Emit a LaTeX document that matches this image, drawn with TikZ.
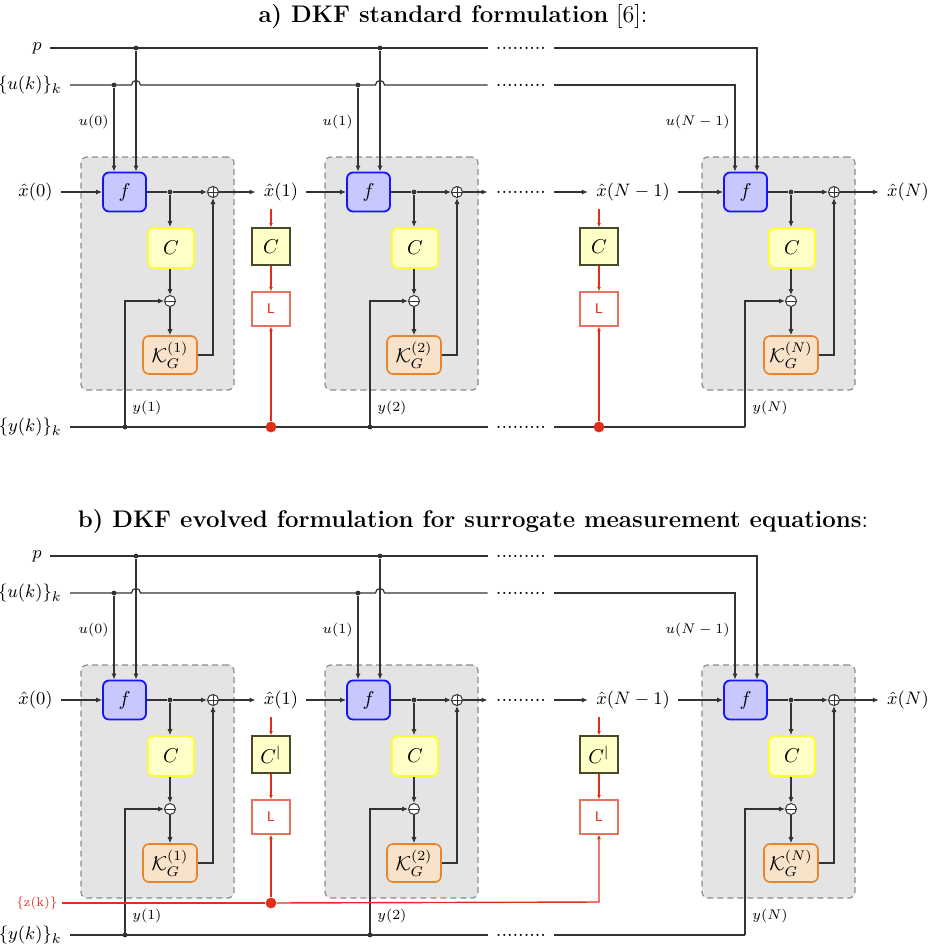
\documentclass[tikz,border=0pt]{standalone}
\usepackage{amsmath}
\usepackage{amssymb}
\usepackage{tikz}
\usetikzlibrary{arrows.meta,positioning,calc}
\definecolor{grpfill}{HTML}{E4E4E4}
\definecolor{grpline}{HTML}{8C8C8C}
\definecolor{ffill}{HTML}{C8C8FF}
\definecolor{fline}{HTML}{1414FF}
\definecolor{cfill}{HTML}{FFFFC8}
\definecolor{cline}{HTML}{FFFF30}
\definecolor{kfill}{HTML}{F8E2CA}
\definecolor{kline}{HTML}{E8842E}
\definecolor{rcline}{HTML}{4A4A2A}
\definecolor{lline}{HTML}{E8705E}
\definecolor{sigred}{HTML}{E0301C}
\definecolor{wire}{HTML}{333333}
\tikzset{
  grp/.style={draw=grpline, fill=grpfill, dash pattern=on 3pt off 2pt,
              rounded corners=3pt, line width=0.6pt},
  blk/.style={rounded corners=3pt, align=center, inner sep=1pt,
              font=\fontsize{10}{12}\selectfont},
  fblk/.style={blk, draw=fline, fill=ffill, line width=0.9pt,
               minimum width=21.5pt, minimum height=19.5pt},
  cblk/.style={blk, draw=cline, fill=cfill, line width=0.9pt,
               minimum width=23pt, minimum height=20pt},
  kblk/.style={blk, draw=kline, fill=kfill, line width=0.8pt,
               minimum width=27pt, minimum height=19pt},
  rcblk/.style={draw=rcline, fill=cfill, line width=0.6pt, inner sep=1pt,
                minimum width=19pt, minimum height=18.5pt,
                font=\fontsize{10}{12}\selectfont},
  lblk/.style={draw=lline, fill=white, line width=0.7pt, text=sigred,
               minimum width=19pt, minimum height=17pt,
               font=\sffamily\fontsize{7}{8}\selectfont},
  sumop/.style={circle, draw=wire, fill=white, line width=0.5pt,
                minimum size=5.5pt, inner sep=0pt},
  addop/.style={sumop, path picture={\draw[wire, line width=0.5pt]
      (path picture bounding box.north) -- (path picture bounding box.south)
      (path picture bounding box.west) -- (path picture bounding box.east);}},
  subop/.style={sumop, path picture={\draw[wire, line width=0.5pt]
      (path picture bounding box.west) -- (path picture bounding box.east);}},
  wr/.style={wire, line width=0.6pt},
  sig/.style={-{Latex[length=3pt,width=2.6pt]}, wire, line width=0.6pt},
  rsig/.style={-{Latex[length=2.2pt,width=2pt]}, sigred, line width=0.7pt},
  jn/.style={circle, fill=wire, inner sep=0pt, minimum size=2.4pt},
  rjn/.style={circle, fill=sigred, inner sep=0pt, minimum size=5.4pt},
  st/.style={inner sep=4pt, font=\fontsize{9.5}{11}\selectfont},
  lbl/.style={inner sep=1pt, font=\fontsize{7}{8}\selectfont},
  dts/.style={inner sep=4pt, font=\fontsize{10}{12}\selectfont},
  ttl/.style={inner sep=0pt, font=\fontsize{12}{14}\selectfont},
}

\begin{document}
\begin{tikzpicture}[x=0.5pt, y=-0.5pt]
  \useasboundingbox (0,0) rectangle (930,948);
  \node[ttl] (ttl-a) at (453,17) {\textbf{a) DKF standard formulation} [6]:};
  \node[ttl] (ttl-b) at (473,522)
    {\textbf{b) DKF evolved formulation for surrogate measurement equations}:};
  \foreach \pn/\pY in {a/0, b/508} {
    % one filter stage per k
    \foreach \bi/\bX/\ul/\yx in {1/0/0/125, 2/244/1/370, N/621/N-1/745} {
      \node[grp, minimum width=76.5pt, minimum height=116.5pt] (g-\pn-\bi)
        at (157.5+\bX, 273.5+\pY) {};
      \node[fblk] (f-\pn-\bi) at (124.5+\bX, 192+\pY) {$f$};
      \node[cblk] (c-\pn-\bi) at (171+\bX, 248+\pY) {$C$};
      \node[subop] (m-\pn-\bi) at (170+\bX, 301+\pY) {};
      \node[kblk] (k-\pn-\bi) at (170+\bX, 355+\pY) {$\mathcal{K}_G^{(\bi)}$};
      \node[addop] (s-\pn-\bi) at (213+\bX, 192+\pY) {};
      \node[jn] (j-\pn-\bi) at (170+\bX, 192+\pY) {};
      \coordinate (pb-\pn-\bi) at (136+\bX, 48+\pY);
      \coordinate (ub-\pn-\bi) at (114+\bX, 85+\pY);
      \coordinate (yb-\pn-\bi) at (\yx, 427+\pY);
      \draw[wr] (f-\pn-\bi) -- (j-\pn-\bi);
      \draw[sig] (j-\pn-\bi) -- (s-\pn-\bi);
      \draw[sig] (j-\pn-\bi) -- (j-\pn-\bi |- c-\pn-\bi.north);
      \draw[sig] (c-\pn-\bi.south -| m-\pn-\bi) -- (m-\pn-\bi);
      \draw[sig] (m-\pn-\bi) -- (k-\pn-\bi);
      \draw[sig] (k-\pn-\bi) -| (s-\pn-\bi);
      \draw[sig] (yb-\pn-\bi) |- (m-\pn-\bi);
      \node[lbl, anchor=east] (ul-\pn-\bi) at (111+\bX, 122+\pY) {$u(\ul)$};
      \node[lbl, anchor=west] (yl-\pn-\bi) at (\yx+5, 408+\pY) {$y(\bi)$};
    }
    % input lines
    \node[st, anchor=east] (p-\pn) at (50,48+\pY) {$p$};
    \node[st, anchor=east] (u-\pn) at (70,85+\pY) {$\{u(k)\}_k$};
    \node[st, anchor=east] (x0-\pn) at (61,192+\pY) {$\hat{x}(0)$};
    \node[st, anchor=east] (y-\pn) at (70,427+\pY) {$\{y(k)\}_k$};
    \node[dts] (dp-\pn) at (521,48+\pY) {.........};
    \node[dts] (du-\pn) at (521,85+\pY) {.........};
    \node[dts] (dx-\pn) at (521,192+\pY) {.........};
    \node[dts] (dy-\pn) at (521,427+\pY) {.........};
    \node[st] (x1-\pn) at (281,192+\pY) {$\hat{x}(1)$};
    \node[st] (xm-\pn) at (633,192+\pY) {$\hat{x}(N-1)$};
    \node[st] (xN-\pn) at (908,192+\pY) {$\hat{x}(N)$};
    \draw[wr] (p-\pn) -- (dp-\pn);
    \draw[sig] (dp-\pn) -| (pb-\pn-N |- f-\pn-N.north);
    \draw[wr] (u-\pn) -- (131.5,85+\pY) arc[start angle=180, end angle=0, radius=2.25pt]
      -- (375.5,85+\pY) arc[start angle=180, end angle=0, radius=2.25pt] -- (du-\pn);
    \draw[sig] (du-\pn) -| (ub-\pn-N |- f-\pn-N.north);
    \foreach \bi in {1,2} {
      \node[jn] (pj-\pn-\bi) at (pb-\pn-\bi) {};
      \node[jn] (uj-\pn-\bi) at (ub-\pn-\bi) {};
      \draw[sig] (pj-\pn-\bi) -- (pj-\pn-\bi |- f-\pn-\bi.north);
      \draw[sig] (uj-\pn-\bi) -- (uj-\pn-\bi |- f-\pn-\bi.north);
    }
    % state chain
    \draw[sig] (x0-\pn) -- (f-\pn-1);
    \draw[sig] (s-\pn-1) -- (x1-\pn);
    \draw[sig] (x1-\pn) -- (f-\pn-2);
    \draw[sig] (s-\pn-2) -- (dx-\pn);
    \draw[sig] (dx-\pn) -- (xm-\pn);
    \draw[sig] (xm-\pn) -- (f-\pn-N);
    \draw[sig] (s-\pn-N) -- (xN-\pn);
    % measurements
    \draw[wr] (y-\pn) -- (dy-\pn);
    \draw[wr] (dy-\pn) -- (yb-\pn-N);
    \node[jn] (yj-\pn-1) at (yb-\pn-1) {};
    \node[jn] (yj-\pn-2) at (yb-\pn-2) {};
    % red check path
    \node[rcblk] (rc-\pn-1) at (271,246.5+\pY) {};
    \node[rcblk] (rc-\pn-N) at (599,246.5+\pY) {};
    \node[lblk] (l-\pn-1) at (271,309+\pY) {L};
    \node[lblk] (l-\pn-N) at (599,309+\pY) {L};
    \draw[rsig] (x1-\pn.south -| rc-\pn-1) -- (rc-\pn-1);
    \draw[rsig] (xm-\pn.south -| rc-\pn-N) -- (rc-\pn-N);
    \draw[rsig] (rc-\pn-1) -- (l-\pn-1);
    \draw[rsig] (rc-\pn-N) -- (l-\pn-N);
  }
  \node (rct-a-1) at (rc-a-1) {$C$};
  \node (rct-a-N) at (rc-a-N) {$C$};
  \node (rct-b-1) at (rc-b-1) {$C^{|}$};
  \node (rct-b-N) at (rc-b-N) {$C^{|}$};
  % panel a: from the y line
  \node[rjn] (rj-a-1) at (271,427) {};
  \node[rjn] (rj-a-N) at (599,427) {};
  \draw[rsig] (rj-a-1) -- (l-a-1);
  \draw[rsig] (rj-a-N) -- (l-a-N);
  % panel b: from the z line
  \node[inner sep=2pt, text=sigred, font=\fontsize{6.5}{8}\selectfont, anchor=east]
    (z-b) at (62,903) {\{z(k)\}};
  \node[rjn] (rj-b-1) at (271,903) {};
  \coordinate (rk-b-N) at (599,902);
  \draw[sigred, line width=0.7pt] (z-b) -- (rj-b-1);
  \draw[rsig] (rj-b-1) -- (l-b-1);
  \draw[rsig] (rj-b-1) -- (rk-b-N) -- (l-b-N);
\end{tikzpicture}
\end{document}
